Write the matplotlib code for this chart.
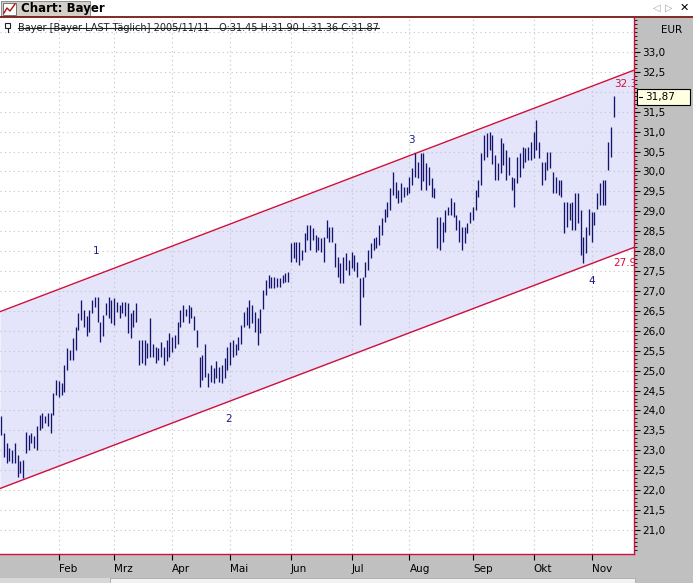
import numpy as np
import matplotlib
matplotlib.use("Agg")
import matplotlib.pyplot as plt
from matplotlib.patches import Rectangle
from matplotlib.lines import Line2D

# ---------------- data ----------------
highs = [
    23.85, 23.43, 23.18, 23.05, 23.01, 23.18, 22.88, 22.72, 22.76, 23.47,
    23.39, 23.43, 23.35, 23.60, 23.89, 23.93, 23.85, 23.93, 23.93, 24.43,
    24.77, 24.73, 24.68, 25.14, 25.56, 25.52, 25.81, 26.10, 26.44, 26.78,
    26.52, 26.36, 26.52, 26.78, 26.86, 26.86, 26.23, 26.40, 26.69, 26.86,
    26.78, 26.82, 26.73, 26.65, 26.73, 26.73, 26.69, 26.44, 26.52, 26.69,
    25.77, 25.77, 25.77, 25.69, 26.31, 25.68, 25.60, 25.56, 25.73, 25.60,
    25.77, 25.94, 25.85, 25.89, 26.23, 26.52, 26.65, 26.56, 26.65, 26.61,
    26.36, 26.02, 25.35, 25.39, 25.68, 24.93, 25.14, 25.06, 25.23, 25.10,
    25.14, 25.31, 25.60, 25.73, 25.77, 25.68, 25.85, 26.15, 26.48, 26.61,
    26.77, 26.65, 26.48, 26.31, 26.56, 27.02, 27.28, 27.40, 27.36, 27.36,
    27.32, 27.32, 27.40, 27.44, 27.48, 28.20, 28.24, 28.24, 28.24, 28.03,
    28.45, 28.66, 28.66, 28.57, 28.41, 28.36, 28.32, 28.36, 28.78, 28.61,
    28.61, 28.20, 27.86, 27.69, 27.86, 27.95, 27.78, 27.99, 27.90, 27.74,
    27.32, 27.36, 27.74, 28.03, 28.20, 28.32, 28.36, 28.66, 28.82, 29.07,
    29.24, 29.58, 29.99, 29.74, 29.54, 29.70, 29.62, 29.62, 29.87, 30.08,
    30.46, 30.25, 30.46, 30.46, 30.21, 30.12, 29.83, 29.58, 28.87, 28.87,
    28.74, 29.03, 29.12, 29.33, 29.24, 28.91, 28.78, 28.61, 28.61, 28.70,
    28.99, 29.12, 29.54, 29.79, 30.46, 30.92, 30.96, 31.00, 30.92, 30.41,
    30.21, 30.83, 30.71, 30.54, 30.37, 29.87, 29.83, 30.37, 30.46, 30.62,
    30.58, 30.62, 30.75, 31.00, 31.29, 30.75, 30.25, 30.25, 30.50, 30.50,
    29.99, 29.87, 29.79, 29.79, 29.24, 29.24, 29.20, 29.24, 29.45, 29.45,
    29.03, 28.36, 28.61, 29.07, 28.99, 28.99, 29.45, 29.70, 29.79, 29.79,
    30.75, 31.12, 31.90,
]
lows = [
    23.39, 22.84, 22.68, 22.72, 22.68, 22.68, 22.34, 22.43, 22.30, 22.93,
    23.01, 23.18, 23.05, 23.01, 23.51, 23.55, 23.68, 23.60, 23.43, 23.89,
    24.39, 24.35, 24.39, 24.47, 25.02, 25.27, 25.27, 25.52, 26.02, 26.27,
    26.10, 25.86, 25.98, 26.44, 26.61, 26.23, 25.73, 25.86, 26.40, 26.31,
    26.19, 26.15, 26.48, 26.31, 26.44, 26.36, 25.94, 25.81, 26.10, 26.23,
    25.14, 25.19, 25.14, 25.31, 25.35, 25.35, 25.18, 25.27, 25.35, 25.14,
    25.23, 25.35, 25.48, 25.56, 25.68, 26.10, 26.23, 26.36, 26.19, 26.31,
    26.02, 25.60, 24.60, 24.77, 24.85, 24.60, 24.72, 24.68, 24.81, 24.72,
    24.68, 24.81, 25.02, 25.14, 25.35, 25.39, 25.52, 25.68, 26.10, 26.14,
    26.06, 26.19, 25.98, 25.64, 25.94, 26.56, 26.90, 27.07, 27.07, 27.07,
    27.11, 27.11, 27.19, 27.23, 27.23, 27.74, 27.82, 27.74, 27.65, 27.78,
    27.99, 28.28, 28.03, 28.28, 27.99, 28.03, 27.99, 27.74, 28.32, 28.24,
    28.24, 27.61, 27.36, 27.19, 27.19, 27.53, 27.40, 27.57, 27.49, 27.36,
    26.15, 26.86, 27.36, 27.53, 27.82, 28.03, 28.07, 28.15, 28.41, 28.74,
    28.87, 29.03, 29.41, 29.33, 29.20, 29.24, 29.37, 29.41, 29.45, 29.66,
    29.87, 29.83, 29.54, 29.75, 29.54, 29.66, 29.37, 29.33, 28.07, 28.03,
    28.24, 28.49, 28.91, 28.91, 28.87, 28.53, 28.24, 28.03, 28.20, 28.45,
    28.70, 28.78, 29.03, 29.37, 29.66, 30.29, 30.37, 30.54, 30.20, 29.79,
    29.79, 29.95, 30.16, 29.79, 29.91, 29.54, 29.12, 29.70, 29.87, 30.08,
    30.25, 30.29, 30.29, 30.33, 30.54, 30.33, 29.66, 29.79, 30.04, 30.08,
    29.45, 29.45, 29.41, 29.37, 28.45, 28.61, 28.78, 28.53, 28.53, 28.70,
    27.90, 27.69, 27.95, 28.41, 28.24, 28.66, 29.07, 29.16, 29.16, 29.16,
    30.04, 30.37, 31.36,
]
month_labels = ["Feb", "Mrz", "Apr", "Mai", "Jun", "Jul", "Aug", "Sep", "Okt", "Nov"]
month_start_idx = [21, 41, 62, 83, 105, 127, 148, 171, 193, 214]
y_tick_values = [21.0, 21.5, 22.0, 22.5, 23.0, 23.5, 24.0, 24.5, 25.0, 25.5, 26.0,
                 26.5, 27.0, 27.5, 28.0, 28.5, 29.0, 29.5, 30.0, 30.5, 31.0, 31.5,
                 32.0, 32.5, 33.0]
grid_y_values = y_tick_values + [33.5]
# regression channel: values at first bar and last bar
channel_upper = [26.49, 32.35]
channel_lower = [22.05, 27.90]
channel_labels = ["32.3", "27.9"]
wave_labels = ["1", "2", "3", "4"]
wave_x = [34.4, 82.6, 148.6, 214.1]
wave_y = [28.0, 23.79, 30.79, 27.25]
last_close = 31.87
legend_text = "Bayer [Bayer LAST Täglich] 2005/11/11 - O:31.45 H:31.90 L:31.36 C:31.87"

# ---------------- figure ----------------
W, H = 693, 583
fig = plt.figure(figsize=(W / 100, H / 100), dpi=100)
fig.patch.set_facecolor("#c0c0c0")

def fx(px):
    return px / W

def fy(py):
    return 1 - py / H

plot_l, plot_r, plot_t, plot_b = 0, 634, 18, 554
ax = fig.add_axes([fx(plot_l), fy(plot_b), fx(plot_r - plot_l), (plot_b - plot_t) / H])
ax.set_facecolor("white")

n = len(highs)
idx = np.arange(n)
x_left, x_right = -0.36, 229.35
y_bot, y_top = 20.396, 33.854
ax.set_xlim(x_left, x_right)
ax.set_ylim(y_bot, y_top)

red = "#d0103a"
navy = "#14146e"

# channel
last = n - 1
su = (channel_upper[1] - channel_upper[0]) / last
sl = (channel_lower[1] - channel_lower[0]) / last
xs = np.array([x_left, x_right])
up = channel_upper[0] + su * xs
lo = channel_lower[0] + sl * xs
ax.fill_between(xs, lo, up, color="#e4e4fa", zorder=1, linewidth=0)

# grid
for gv in grid_y_values:
    ax.axhline(gv, color="#c4c4c4", lw=0.8, ls=(0, (1, 3)), zorder=2)
for mx in month_start_idx:
    ax.axvline(mx, color="#c4c4c4", lw=0.8, ls=(0, (1, 3)), zorder=2)

ax.plot(xs, up, color=red, lw=1.0, zorder=3)
ax.plot(xs, lo, color=red, lw=1.0, zorder=3)

# bars
ax.vlines(idx, lows, highs, color=navy, lw=0.95, zorder=4)

# channel value labels
ax.annotate(channel_labels[0], (last, channel_upper[1]), xytext=(0, -1),
            textcoords="offset points", ha="left", va="top", color=red,
            fontsize=7.5, zorder=5, annotation_clip=False, clip_on=True)
ax.annotate(channel_labels[1], (last, channel_lower[1]), xytext=(0, -2),
            textcoords="offset points", ha="left", va="top", color=red,
            fontsize=7.5, zorder=5, annotation_clip=False, clip_on=True)

# wave labels
for t, wx, wy in zip(wave_labels, wave_x, wave_y):
    ax.text(wx, wy, t, color="#1c1c8a", fontsize=7.5, ha="center", va="center", zorder=5)

# spines
for s in ["left", "top"]:
    ax.spines[s].set_visible(False)
ax.spines["right"].set_color(red)
ax.spines["bottom"].set_color(red)
ax.spines["right"].set_linewidth(1.0)
ax.spines["bottom"].set_linewidth(1.0)

# y axis on the right (the 32,0 label is hidden behind the last-price box)
ax.yaxis.tick_right()
ax.set_yticks(y_tick_values)
ax.set_yticklabels(["" if abs(v - 32.0) < 1e-9 else f"{v:.1f}".replace(".", ",")
                    for v in y_tick_values])
ax.set_yticks(np.round(np.arange(20.5, 33.85, 0.1), 2), minor=True)
ax.tick_params(axis="y", which="major", direction="out", length=4, width=0.8,
               color="black", labelsize=7.5, pad=2, labelcolor="black")
ax.tick_params(axis="y", which="minor", direction="out", length=2, width=0.6, color="black")

# x axis
ax.set_xticks(month_start_idx)
ax.set_xticklabels(month_labels)
for lab in ax.get_xticklabels():
    lab.set_horizontalalignment("left")
ax.tick_params(axis="x", which="major", direction="out", length=4, width=0.8,
               color="black", labelsize=7.5, pad=3)

# ---------------- chrome ----------------
# top strip
fig.add_artist(Rectangle((0, fy(16)), 1, 16 / H, transform=fig.transFigure,
                         facecolor="white", edgecolor="none", zorder=0))
fig.add_artist(Rectangle((fx(1), fy(16)), fx(89), 15 / H, transform=fig.transFigure,
                         facecolor="#d4d0c8", edgecolor="#808080", lw=0.6, zorder=1))
fig.add_artist(Line2D([0, 1], [fy(17), fy(17)], transform=fig.transFigure,
                      color="#7a1010", lw=1.2, zorder=2))
# small chart icon on tab
fig.add_artist(Rectangle((fx(3), fy(15)), fx(13), 12 / H, transform=fig.transFigure,
                         facecolor="white", edgecolor="#606060", lw=0.6, zorder=2))
fig.add_artist(Line2D([fx(4), fx(7), fx(10), fx(15)], [fy(13), fy(8), fy(11), fy(4)],
                      transform=fig.transFigure, color="#b01010", lw=1.0, zorder=3))
fig.text(fx(21), fy(8.5), "Chart: Bayer", fontsize=8.5, fontweight="bold",
         ha="left", va="center", color="black")
fig.text(fx(657), fy(8), "◁", fontsize=7, ha="center", va="center", color="#a0a0a0")
fig.text(fx(669), fy(8), "▷", fontsize=7, ha="center", va="center", color="#a0a0a0")
fig.text(fx(684), fy(8), "✕", fontsize=8, fontweight="bold", ha="center", va="center", color="black")

# legend row
fig.add_artist(Rectangle((fx(5), fy(28)), fx(5), 5 / H, transform=fig.transFigure,
                         facecolor="white", edgecolor="#202020", lw=0.8, zorder=5))
fig.add_artist(Line2D([fx(7.5), fx(7.5)], [fy(28), fy(32)], transform=fig.transFigure,
                      color="#202020", lw=0.8, zorder=5))
lt = fig.text(fx(18), fy(28), legend_text, fontsize=7, ha="left", va="center",
              color="#202020", zorder=5)
fig.canvas.draw()
bb = lt.get_window_extent()
fig.add_artist(Line2D([fx(bb.x0), fx(bb.x1)], [fy(27.5), fy(27.5)],
                      transform=fig.transFigure, color="#202020", lw=0.8, zorder=6))

# EUR label
fig.text(fx(672), fy(30), "EUR", fontsize=7.5, ha="center", va="center", color="black")

# last price box
yb = plot_t + (y_top - last_close) / (y_top - y_bot) * (plot_b - plot_t)
fig.add_artist(Rectangle((fx(637), fy(yb + 8)), fx(53), 16 / H, transform=fig.transFigure,
                         facecolor="#ffffe1", edgecolor="black", lw=0.8, zorder=5))
fig.add_artist(Line2D([fx(639), fx(642)], [fy(yb), fy(yb)], transform=fig.transFigure,
                      color="black", lw=0.8, zorder=6))
fig.text(fx(645), fy(yb), f"{last_close:.2f}".replace(".", ","), fontsize=7.5,
         ha="left", va="center", color="black", zorder=6)

# bottom scroll strip
fig.add_artist(Rectangle((0, 0), fx(110), 5 / H, transform=fig.transFigure,
                         facecolor="#d8d8d8", edgecolor="none", zorder=1))
fig.add_artist(Rectangle((fx(110), 0), fx(525), 5 / H, transform=fig.transFigure,
                         facecolor="#f2f2f2", edgecolor="#a0a0a0", lw=0.5, zorder=1))

fig.savefig("out.png", dpi=100, facecolor=fig.get_facecolor())
